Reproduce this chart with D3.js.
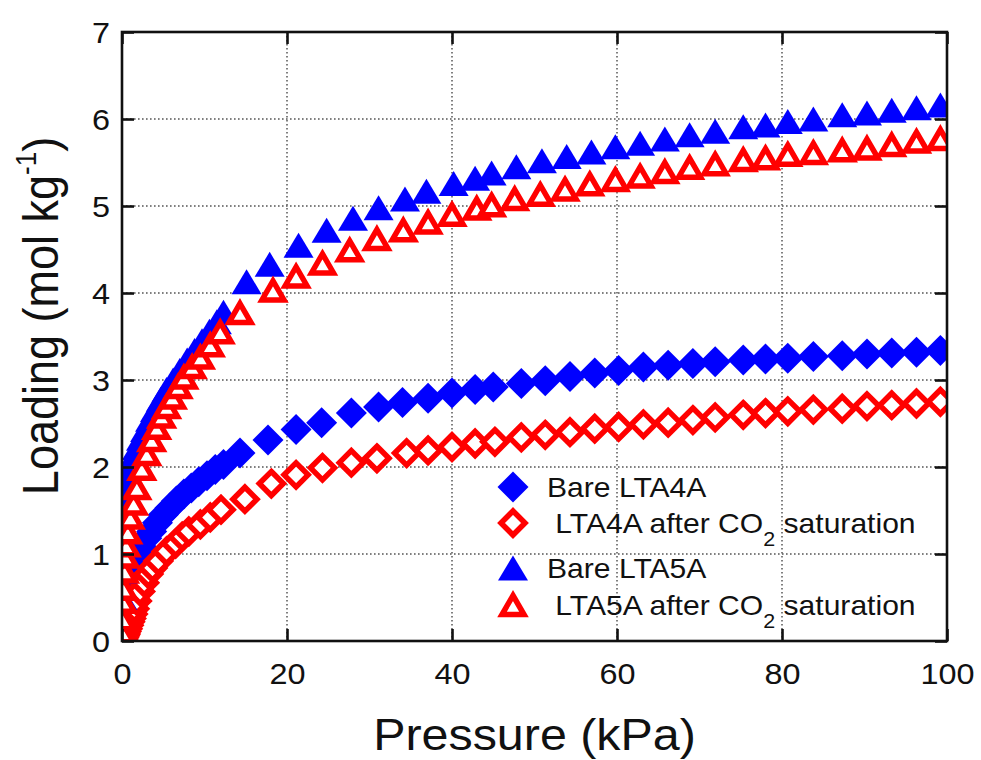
<!DOCTYPE html>
<html>
<head>
<meta charset="utf-8">
<script src="https://cdn.jsdelivr.net/npm/d3@7"></script>
<style>
  html, body { margin: 0; padding: 0; background: #fff; }
  svg { display: block; font-family: "Liberation Sans", Arial, Helvetica, sans-serif; }
</style>
</head>
<body>
<svg id="chart" width="981" height="760"></svg>
<script>
// Pressure (kPa) and CO2 loading (mol/kg) for each adsorbent
const bareLTA4A_P = [0.3,0.7,1.2,1.8,2.4,3.0,3.6,4.3,5.0,5.8,6.6,7.5,8.4,9.3,10.3,11.3,12.3,14.3,17.7,21.1,24.2,27.8,31.1,34.0,37.1,40.0,42.8,45.0,48.4,51.3,54.3,57.3,60.2,63.2,66.2,69.2,71.9,75.3,78.0,80.7,83.8,87.3,90.3,93.3,96.3,99.2];
const bareLTA4A_Q = [0.3,0.6,0.82,0.98,1.08,1.18,1.26,1.36,1.45,1.53,1.61,1.69,1.76,1.83,1.9,1.97,2.03,2.16,2.31,2.43,2.51,2.62,2.69,2.74,2.79,2.85,2.89,2.92,2.96,2.99,3.04,3.08,3.11,3.15,3.17,3.19,3.21,3.23,3.24,3.25,3.27,3.28,3.30,3.31,3.32,3.34];

const satLTA4A_P = [0.1,0.2,0.3,0.4,0.5,0.65,0.8,0.95,1.1,1.3,1.5,1.8,2.2,2.7,3.2,3.7,4.4,5.4,6.5,7.3,8.1,9.5,10.7,12.0,14.9,18.1,21.1,24.3,27.8,30.9,34.5,37.1,40.0,42.8,45.2,48.4,51.3,54.3,57.3,60.2,63.2,66.2,69.2,71.9,75.3,78.0,80.7,83.8,87.3,90.3,93.3,96.3,99.2];
const satLTA4A_Q = [0.02,0.04,0.06,0.08,0.11,0.14,0.18,0.22,0.26,0.31,0.37,0.46,0.57,0.67,0.77,0.84,0.92,1.03,1.12,1.2,1.26,1.34,1.42,1.51,1.63,1.81,1.91,1.99,2.05,2.10,2.16,2.19,2.23,2.27,2.29,2.34,2.37,2.40,2.44,2.46,2.49,2.51,2.54,2.57,2.60,2.62,2.64,2.66,2.67,2.70,2.71,2.73,2.75];

const bareLTA5A_P = [0.05,0.1,0.2,0.35,0.5,0.7,1.0,1.4,1.8,2.3,2.8,3.4,4.0,4.7,5.4,6.2,7.0,7.9,8.8,9.7,10.6,11.5,12.3,15.1,17.9,21.4,24.8,28.0,31.1,34.3,36.9,40.2,42.8,44.8,47.8,50.9,53.9,56.9,59.8,62.8,65.8,68.8,71.9,75.3,78.0,80.7,83.8,87.3,90.3,93.3,96.3,99.2];
const bareLTA5A_Q = [0.5,0.8,1.2,1.5,1.7,1.86,2.0,2.12,2.22,2.33,2.43,2.55,2.66,2.78,2.89,3.0,3.11,3.23,3.34,3.45,3.56,3.67,3.78,4.13,4.33,4.55,4.72,4.86,4.98,5.08,5.17,5.26,5.32,5.38,5.45,5.52,5.57,5.62,5.68,5.72,5.77,5.82,5.86,5.91,5.93,5.97,6.00,6.05,6.07,6.10,6.13,6.16];

const satLTA5A_P = [0.05,0.1,0.15,0.2,0.3,0.4,0.5,0.7,1.0,1.4,1.8,2.4,3.0,3.6,4.2,4.8,5.4,6.1,6.8,7.5,8.5,9.5,10.7,11.9,14.3,18.3,21.1,24.3,27.6,30.9,34.1,37.1,40.0,43.0,44.8,47.6,50.7,53.7,56.7,59.8,62.8,65.8,68.8,71.9,75.3,78.0,80.7,83.8,87.3,90.3,93.3,96.3,99.2];
const satLTA5A_Q = [0.1,0.25,0.45,0.6,0.8,0.97,1.1,1.25,1.42,1.58,1.76,1.98,2.15,2.31,2.45,2.58,2.69,2.8,2.92,3.03,3.15,3.26,3.4,3.55,3.77,4.03,4.19,4.34,4.49,4.62,4.72,4.81,4.90,4.97,5.01,5.08,5.13,5.19,5.25,5.30,5.34,5.39,5.44,5.48,5.53,5.55,5.59,5.61,5.64,5.66,5.70,5.74,5.77];

const seriesNames = ["Bare LTA4A", " LTA4A after CO|2| saturation", "Bare LTA5A", " LTA5A after CO|2| saturation"];
const xTicks = [0, 20, 40, 60, 80, 100];
const yTicks = [0, 1, 2, 3, 4, 5, 6, 7];

const W = 981, H = 760;
const margin = { top: 32, right: 34, bottom: 119, left: 122 };
const svg = d3.select("#chart");

const x = d3.scaleLinear().domain([0, 100]).range([margin.left, W - margin.right]);
const y = d3.scaleLinear().domain([0, 7]).range([H - margin.bottom, margin.top]);

const BLUE = "#0000ff", RED = "#ff0000";
const TEXT = "#111";
// glyphs in this figure run slightly wide
const WIDE = 1.08;

// marker path generators, centred on (0,0)
function diamondPath(h) { return `M0,${-h}L${h},0L0,${h}L${-h},0Z`; }
function trianglePath(w, h) { return `M0,${-h / 2}L${w / 2},${h / 2}L${-w / 2},${h / 2}Z`; }

const markers = [
  { d: diamondPath(15.5), fill: BLUE, stroke: "none", sw: 0 },
  { d: diamondPath(12), fill: "#fff", stroke: RED, sw: 5.5 },
  { d: trianglePath(30, 25), fill: BLUE, stroke: "none", sw: 0 },
  { d: trianglePath(22, 19), fill: "#fff", stroke: RED, sw: 5.5 }
];

const series = [
  { P: bareLTA4A_P, Q: bareLTA4A_Q },
  { P: satLTA4A_P, Q: satLTA4A_Q },
  { P: bareLTA5A_P, Q: bareLTA5A_Q },
  { P: satLTA5A_P, Q: satLTA5A_Q }
];

svg.append("defs").append("clipPath").attr("id", "plotClip")
  .append("rect")
  .attr("x", margin.left).attr("y", margin.top)
  .attr("width", W - margin.left - margin.right)
  .attr("height", H - margin.top - margin.bottom);

// dotted grid
const grid = svg.append("g").attr("stroke", "#555").attr("stroke-width", 1.5).attr("stroke-dasharray", "1.6,2.4");
grid.selectAll("line.gx").data(xTicks.filter(t => t > 0 && t < 100)).join("line")
  .attr("x1", d => x(d)).attr("x2", d => x(d))
  .attr("y1", y(7)).attr("y2", y(0));
grid.selectAll("line.gy").data(yTicks.filter(t => t > 0 && t < 7)).join("line")
  .attr("x1", x(0)).attr("x2", x(100))
  .attr("y1", d => y(d)).attr("y2", d => y(d));

// data markers
const plot = svg.append("g").attr("clip-path", "url(#plotClip)");
series.forEach((s, i) => {
  const m = markers[i];
  const pts = s.P.map((p, k) => [p, s.Q[k]]);
  plot.append("g").selectAll("path").data(pts).join("path")
    .attr("d", m.d)
    .attr("transform", d => `translate(${x(d[0])},${y(d[1])})`)
    .attr("fill", m.fill)
    .attr("stroke", m.stroke)
    .attr("stroke-width", m.sw)
    .attr("stroke-linejoin", "miter");
});

// axes with inward ticks on all four sides
const axisColor = "#111";
function styleAxis(g) {
  g.select(".domain").remove();
  g.selectAll(".tick line").attr("stroke", axisColor).attr("stroke-width", 2.6);
}
const fontSize = 30;
svg.append("g").attr("transform", `translate(0,${y(0)})`)
  .call(d3.axisBottom(x).tickValues(xTicks).tickSizeInner(-12).tickSizeOuter(0).tickPadding(0).tickFormat(d3.format("d")))
  .call(styleAxis)
  .call(g => g.selectAll(".tick text").attr("y", 0).attr("dy", null)
    .attr("transform", `translate(0,43) scale(${WIDE},1)`)
    .attr("font-size", fontSize).attr("fill", TEXT).attr("font-family", "Liberation Sans, Arial, sans-serif"));
svg.append("g").attr("transform", `translate(${x(0)},0)`)
  .call(d3.axisLeft(y).tickValues(yTicks).tickSizeInner(-12).tickSizeOuter(0).tickPadding(0).tickFormat(d3.format("d")))
  .call(styleAxis)
  .call(g => g.selectAll(".tick text").attr("x", 0).attr("dy", "0.36em")
    .attr("transform", `translate(-12,0) scale(${WIDE},1)`)
    .attr("font-size", fontSize).attr("fill", TEXT).attr("font-family", "Liberation Sans, Arial, sans-serif"));
svg.append("g").attr("transform", `translate(0,${y(7)})`)
  .call(d3.axisTop(x).tickValues(xTicks).tickSizeInner(-12).tickSizeOuter(0).tickFormat(""))
  .call(styleAxis);
svg.append("g").attr("transform", `translate(${x(100)},0)`)
  .call(d3.axisRight(y).tickValues(yTicks).tickSizeInner(-12).tickSizeOuter(0).tickFormat(""))
  .call(styleAxis);

// frame
svg.append("rect")
  .attr("x", x(0)).attr("y", y(7))
  .attr("width", x(100) - x(0)).attr("height", y(0) - y(7))
  .attr("fill", "none").attr("stroke", axisColor).attr("stroke-width", 2.6);

// axis titles
svg.append("text")
  .attr("transform", `translate(${(x(0) + x(100)) / 2},750) scale(1.1,1)`)
  .attr("text-anchor", "middle").attr("font-size", 44).attr("fill", TEXT)
  .text("Pressure (kPa)");

const yTitle = svg.append("text")
  .attr("transform", `translate(58,316) rotate(-90) scale(1,1.1)`)
  .attr("text-anchor", "middle").attr("font-size", 45).attr("fill", TEXT);
yTitle.append("tspan").text("Loading (mol kg");
yTitle.append("tspan").attr("font-size", 26).attr("dy", -20).text("-1");
yTitle.append("tspan").attr("dy", 20).text(")");

// legend
const legendRows = [487, 523, 568, 605];
const legend = svg.append("g");
seriesNames.forEach((name, i) => {
  const m = markers[i];
  legend.append("path")
    .attr("d", m.d)
    .attr("transform", `translate(513,${legendRows[i]})`)
    .attr("fill", m.fill).attr("stroke", m.stroke).attr("stroke-width", m.sw);
  const t = legend.append("text")
    .attr("transform", `translate(547,${legendRows[i] + 10}) scale(1.075,1)`)
    .attr("font-size", 28).attr("fill", TEXT)
    .style("white-space", "pre");
  name.split("|").forEach((part, k) => {
    if (k === 1) {
      t.append("tspan").attr("font-size", 20).attr("dy", 13).text(part);
    } else if (k === 2) {
      t.append("tspan").attr("dy", -13).text(part);
    } else {
      t.append("tspan").text(part);
    }
  });
});
</script>
</body>
</html>
